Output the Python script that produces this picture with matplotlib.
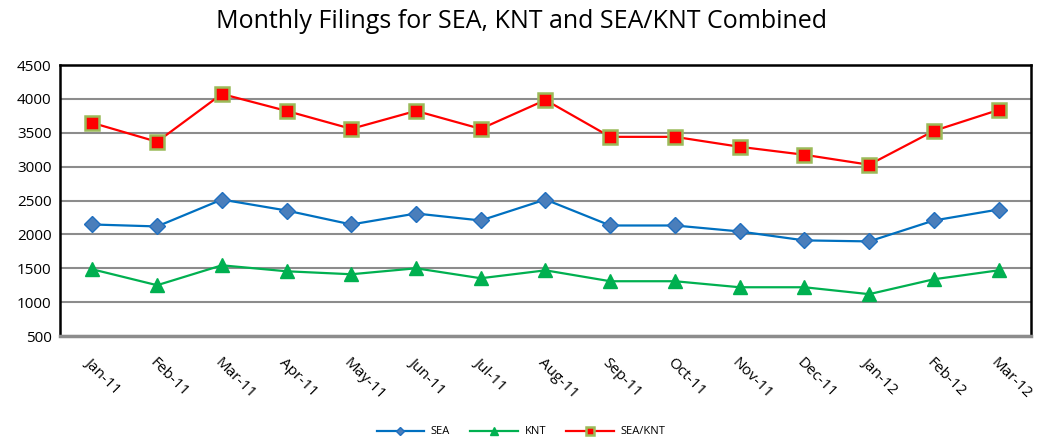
import numpy as np
import matplotlib.pyplot as plt

months = ['Jan-11', 'Feb-11', 'Mar-11', 'Apr-11', 'May-11', 'Jun-11', 'Jul-11', 'Aug-11',
          'Sep-11', 'Oct-11', 'Nov-11', 'Dec-11', 'Jan-12', 'Feb-12', 'Mar-12']
sea = [2147, 2118, 2515, 2353, 2147, 2309, 2206, 2515, 2132, 2132, 2044, 1912, 1897, 2206, 2368]
knt = [1485, 1250, 1544, 1456, 1412, 1500, 1353, 1470, 1309, 1309, 1220, 1220, 1118, 1338, 1470]
combined = [3647, 3368, 4074, 3824, 3559, 3824, 3559, 3985, 3441, 3441, 3294, 3176, 3029, 3529, 3838]

plt.rcParams['font.family'] = ['Open Sans', 'DejaVu Sans']

fig = plt.figure(figsize=(10.42, 4.43), dpi=100)
ax = fig.add_axes([0.0576, 0.2415, 0.9318, 0.6115])

x = np.arange(len(months))
ax.plot(x, sea, color='#0070C0', lw=1.6, marker='D', ms=8,
        markerfacecolor='#4A7EBB', markeredgecolor='#1F6FC0', label='SEA', zorder=3)
ax.plot(x, knt, color='#00B050', lw=1.6, marker='^', ms=10,
        markerfacecolor='#00B050', markeredgecolor='#00B050', label='KNT', zorder=3)
ax.plot(x, combined, color='#FF0000', lw=1.6, marker='s', ms=10,
        markerfacecolor='#FF0000', markeredgecolor='#9BBB59', markeredgewidth=1.8,
        label='SEA/KNT', zorder=3)

ax.set_xlim(-0.5, len(months) - 0.5)
ax.set_ylim(500, 4500)
ax.set_yticks(range(500, 4501, 500))
ax.yaxis.grid(True, color='#8C8C8C', lw=1.5)
ax.set_axisbelow(True)
ax.tick_params(axis='y', length=0, labelsize=11, pad=6)
ax.set_xticks(x)
ax.set_xticklabels(months, rotation=-45, ha='left', rotation_mode='anchor', fontsize=11)
ax.tick_params(axis='x', length=0, pad=14)

for side in ['top', 'right', 'left']:
    ax.spines[side].set_color('black')
    ax.spines[side].set_linewidth(1.8)
ax.spines['bottom'].set_color('#8C8C8C')
ax.spines['bottom'].set_linewidth(2.5)

fig.suptitle('Monthly Filings for SEA, KNT and SEA/KNT Combined', y=0.98, fontsize=18)

fig.legend(loc='lower center', bbox_to_anchor=(0.5, -0.01), ncol=3, frameon=False,
           fontsize=8, handlelength=4.3, columnspacing=1.8, handletextpad=0.6,
           markerscale=0.55)

fig.savefig('out.png', dpi=100)
